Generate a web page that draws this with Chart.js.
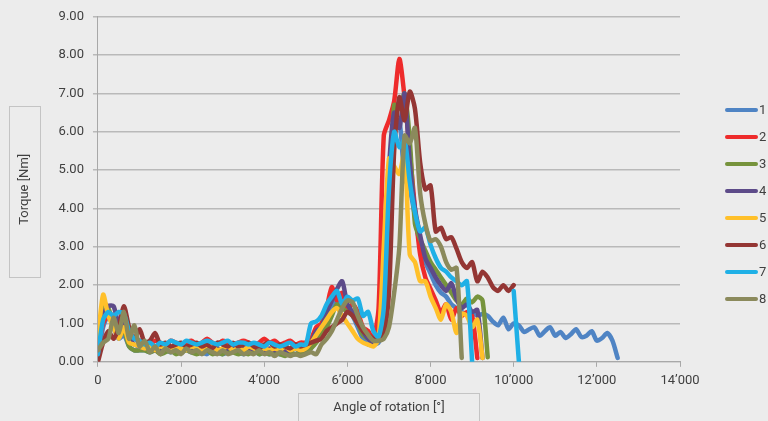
<!DOCTYPE html>
<html>
    <head>
        <meta charset="UTF-8">
        <title>Torque vs angle</title>
        <script src="https://cdn.jsdelivr.net/npm/chart.js@4.4.1/dist/chart.umd.min.js"></script>
        <style>
            body{margin:0;background:#ececec;}
            canvas{display:block;}
        </style>
    </head>
    <body>
        <canvas id="chart" width="768" height="421"></canvas>
        <script>
            // sample positions (angle of rotation, deg)
            const angle=[
                0,125,250,375,500,625,750,875,1000,1125,
                1250,1375,1500,1625,1750,1875,2000,2125,2250,2375,
                2500,2625,2750,2875,3000,3125,3250,3375,3500,3625,
                3750,3875,4000,4125,4250,4375,4500,4625,4750,4875,
                5000,5125,5250,5375,5500,5625,5750,5875,6000,6125,
                6250,6375,6500,6625,6750,6875,7000,7125,7250,7375,
                7500,7625,7750,7875,8000,8125,8250,8375,8500,8625,
                8750,8875,9000,9125,9250,9375,9500,9625,9750,9875,
                10000,10125,10250,10375,10500,10625,10750,10875,11000,11125,
                11250,11375,11500,11625,11750,11875,12000,12125,12250,12375,
                12500
            ];

            const seriesNames=["1","2","3","4","5","6","7","8"];
            const seriesColors=["#4f84c4","#ee2b2b","#76933c","#5d4b89","#ffc02a","#943634","#1fb0e6","#8b8a5c"];

            const torque1=[
                0.1,0.9,1.2,0.9,0.6,0.7,0.4,0.3,0.3,0.3,
                0.25,0.3,0.25,0.3,0.25,0.3,0.25,0.3,0.25,0.3,
                0.25,0.2,0.3,0.25,0.2,0.25,0.3,0.25,0.2,0.25,
                0.3,0.2,0.25,0.2,0.25,0.2,0.25,0.2,0.2,0.25,
                0.25,0.35,0.6,0.8,1.1,1.4,1.6,1.5,1.4,1.2,
                0.9,0.6,0.45,0.45,0.5,0.9,3.5,6.0,6.3,4.8,
                4.5,3.8,3.0,2.6,2.3,2.0,1.8,1.7,1.5,1.4,
                1.3,1.25,1.3,1.2,1.25,1.2,1.05,0.95,1.15,0.85,
                1.0,0.95,0.78,0.85,0.9,0.68,0.8,0.9,0.68,0.78,
                0.62,0.72,0.85,0.65,0.68,0.8,0.55,0.62,0.75,0.55,
                0.1
            ];
            const torque2=[
                0.3,1.0,1.2,1.0,0.8,1.1,0.7,0.6,0.55,0.5,
                0.45,0.55,0.5,0.4,0.55,0.5,0.45,0.5,0.55,0.45,
                0.5,0.6,0.5,0.45,0.55,0.5,0.45,0.5,0.55,0.5,
                0.45,0.5,0.6,0.5,0.55,0.45,0.5,0.55,0.45,0.5,
                0.5,0.6,0.9,1.0,1.4,1.95,1.6,1.8,1.4,1.5,
                1.3,0.9,0.8,0.6,1.4,5.9,6.3,6.8,7.9,6.9,
                5.5,4.0,2.8,2.2,1.9,1.6,1.3,1.5,1.1,1.4,
                1.2,1.3,1.2,0.1
            ];
            const torque3=[
                0.4,1.55,1.4,1.0,0.7,0.8,0.4,0.3,0.3,0.3,
                0.25,0.3,0.2,0.25,0.3,0.2,0.25,0.3,0.25,0.2,
                0.25,0.3,0.2,0.25,0.2,0.3,0.25,0.2,0.25,0.2,
                0.3,0.2,0.25,0.2,0.25,0.2,0.15,0.25,0.2,0.25,
                0.25,0.35,0.5,0.7,0.9,1.2,1.5,1.4,1.3,1.2,
                1.0,0.7,0.6,0.5,0.6,1.2,4.0,6.7,6.6,7.0,
                5.8,3.6,3.2,2.9,2.6,2.4,2.2,2.0,1.8,1.6,
                1.5,1.65,1.55,1.7,1.6,0.12
            ];
            const torque4=[
                0.3,1.2,1.45,1.45,1.0,1.1,0.6,0.45,0.4,0.35,
                0.4,0.3,0.35,0.4,0.3,0.35,0.4,0.35,0.3,0.4,
                0.35,0.3,0.4,0.35,0.3,0.35,0.4,0.3,0.35,0.3,
                0.35,0.4,0.3,0.35,0.3,0.35,0.3,0.3,0.35,0.3,
                0.35,0.5,0.8,0.9,1.3,1.6,1.9,2.1,1.5,1.3,
                1.1,0.8,0.6,0.5,0.7,1.5,5.0,6.5,6.1,7.0,
                5.2,4.0,3.3,2.7,2.45,2.2,2.0,1.85,2.05,1.65,
                1.4,1.5,1.3,1.35,0.1
            ];
            const torque5=[
                0.6,1.75,1.2,0.9,0.6,0.9,0.5,0.45,0.4,0.35,
                0.4,0.3,0.4,0.35,0.3,0.4,0.35,0.3,0.4,0.35,
                0.3,0.35,0.4,0.3,0.35,0.4,0.3,0.35,0.3,0.4,
                0.35,0.3,0.35,0.3,0.35,0.3,0.4,0.3,0.35,0.3,
                0.35,0.5,0.7,0.9,1.1,1.3,1.4,1.2,1.0,0.8,
                0.6,0.5,0.45,0.4,0.6,3.0,5.3,5.1,4.9,5.5,
                2.8,2.6,2.1,2.1,1.7,1.4,1.1,1.5,1.3,0.75,
                1.25,1.2,0.9,1.1,0.1
            ];
            const torque6=[
                0.0,0.5,0.8,0.6,0.9,1.45,0.9,0.6,0.85,0.5,
                0.55,0.75,0.45,0.5,0.4,0.45,0.5,0.4,0.45,0.5,
                0.4,0.45,0.35,0.5,0.45,0.4,0.5,0.4,0.45,0.5,
                0.4,0.35,0.45,0.5,0.4,0.45,0.4,0.35,0.45,0.4,
                0.45,0.5,0.55,0.6,0.8,0.9,1.0,1.1,1.3,1.2,
                1.0,0.8,0.7,0.6,0.55,0.7,1.8,5.5,6.9,6.3,
                7.05,6.6,5.2,4.5,4.6,3.4,3.5,3.2,3.25,2.95,
                2.6,2.45,2.6,2.1,2.35,2.2,1.95,1.85,2.0,1.85,
                2.0
            ];
            const torque7=[
                0.2,1.1,1.3,1.2,1.3,1.25,0.8,0.6,0.55,0.45,
                0.5,0.4,0.5,0.45,0.55,0.5,0.45,0.55,0.5,0.45,
                0.5,0.55,0.5,0.45,0.5,0.55,0.45,0.5,0.5,0.45,
                0.5,0.45,0.4,0.5,0.45,0.4,0.45,0.5,0.4,0.45,
                0.45,1.0,1.05,1.2,1.5,1.7,1.85,1.5,1.7,1.6,
                1.65,1.2,1.3,0.8,0.65,1.4,4.5,6.0,5.6,5.8,
                4.7,3.9,3.4,3.5,3.05,2.7,2.45,2.35,2.2,2.1,
                2.0,2.1,0.0,null,null,null,null,null,null,null,
                1.85,0.0
            ];
            const torque8=[
                0.3,0.5,0.6,1.15,0.75,1.3,0.6,0.95,0.4,0.55,
                0.25,0.4,0.2,0.35,0.25,0.3,0.2,0.35,0.25,0.3,
                0.2,0.3,0.25,0.2,0.3,0.2,0.25,0.3,0.2,0.25,
                0.2,0.3,0.2,0.25,0.15,0.25,0.2,0.15,0.2,0.15,
                0.2,0.25,0.2,0.45,0.6,0.8,1.1,1.4,1.6,1.55,
                1.2,0.9,0.7,0.55,0.55,0.6,0.9,1.8,3.0,5.9,
                5.7,6.1,4.4,3.6,3.15,3.2,3.0,2.6,2.4,2.45,
                0.1
            ];

            const allTorque=[torque1,torque2,torque3,torque4,torque5,torque6,torque7,torque8];
            const textColor="#404040";
            const font="Roboto";

            const datasets=allTorque.map((t,i)=>({
                label:seriesNames[i],
                data:t.map((y,k)=>({x:angle[k],y:y})),
                borderColor:seriesColors[i],
                backgroundColor:seriesColors[i],
                borderWidth:4.5,
                pointRadius:0,
                tension:0.25,
                borderJoinStyle:"round",
                borderCapStyle:"round",
                spanGaps:false,
                order:seriesNames.length-i
            }));

            function thousands(v){
                if(v==0) return "0";
                return Math.floor(v/1000)+"\u2019"+String(v%1000).padStart(3,"0");
            }

            // boxes round axis titles + legend on the right
            const decorations={
                id:"decorations",
                afterDraw(chart){
                    const ctx=chart.ctx;
                    const area=chart.chartArea;
                    ctx.save();
                    ctx.strokeStyle="#c4c4c4";
                    ctx.lineWidth=1;
                    ctx.strokeRect(9.5,106.5,31,171);
                    const cx=(area.left+area.right)/2;
                    ctx.strokeRect(Math.round(cx-91)+0.5,393.5,181,40);

                    const n=chart.data.datasets.length;
                    const mid=chart.height/2-6;
                    ctx.font="13px "+font;
                    ctx.textBaseline="middle";
                    ctx.textAlign="left";
                    chart.data.datasets.forEach((ds,i)=>{
                        const y=mid+(i-(n-1)/2)*27;
                        ctx.strokeStyle=ds.borderColor;
                        ctx.lineWidth=4;
                        ctx.lineCap="round";
                        ctx.beginPath();
                        ctx.moveTo(727,y);
                        ctx.lineTo(756,y);
                        ctx.stroke();
                        ctx.fillStyle=textColor;
                        ctx.fillText(ds.label,759,y+1);
                    });
                    ctx.restore();
                }
            };

            const chart=new Chart(document.getElementById("chart"),{
                type:"line",
                data:{datasets:datasets},
                options:{
                    responsive:false,
                    animation:false,
                    layout:{padding:{top:14,right:88,left:0,bottom:0}},
                    plugins:{
                        legend:{display:false},
                        tooltip:{enabled:false}
                    },
                    scales:{
                        x:{
                            type:"linear",
                            min:0,
                            max:14000,
                            border:{display:true,color:"#a8a8a8",width:1},
                            grid:{drawOnChartArea:false,drawTicks:true,tickLength:5,color:"#a8a8a8"},
                            ticks:{
                                stepSize:2000,
                                maxRotation:0,
                                padding:6,
                                color:textColor,
                                font:{family:font,size:13},
                                callback:v=>thousands(v)
                            },
                            title:{
                                display:true,
                                text:"Angle of rotation [\u00b0]",
                                color:textColor,
                                font:{family:font,size:13},
                                padding:{top:6,bottom:5}
                            }
                        },
                        y:{
                            min:0,
                            max:9,
                            border:{display:true,color:"#a8a8a8",width:1},
                            grid:{color:"#b9b9b9",lineWidth:1.5,tickLength:5,drawTicks:true},
                            ticks:{
                                stepSize:1,
                                padding:9,
                                color:textColor,
                                font:{family:font,size:13},
                                callback:v=>v.toFixed(2)
                            },
                            title:{
                                display:true,
                                text:"Torque [Nm]",
                                color:textColor,
                                font:{family:font,size:13},
                                padding:{top:17,bottom:17}
                            }
                        }
                    }
                },
                plugins:[decorations]
            });
        </script>
    </body>
</html>
